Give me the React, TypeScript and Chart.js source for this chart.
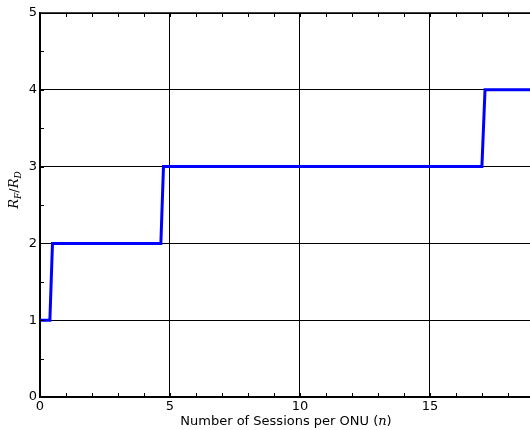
import React, { useEffect, useRef } from "react";
import { Chart, registerables } from "chart.js";

Chart.register(...registerables);

const xValues = [0, 0.38, 0.48, 4.65, 4.75, 17.0, 17.12, 19];
const yValues = [1, 1, 2, 2, 3, 3, 4, 4];
const xMin = 0;
const xMax = 18.85;
const yMin = 0;
const yMax = 5;
const xMajorStep = 5;
const xMinorStep = 1;
const yMajorStep = 1;
const yMinorStep = 0.5;

const framePlugin = {
  id: "framePlugin",
  afterDraw(chart: any) {
    const { ctx, chartArea, scales } = chart;
    const xs = scales.x;
    const ys = scales.y;
    ctx.save();
    ctx.strokeStyle = "#000";
    // top border
    ctx.lineWidth = 1.5;
    ctx.beginPath();
    ctx.moveTo(chartArea.left, chartArea.top);
    ctx.lineTo(chartArea.right, chartArea.top);
    ctx.stroke();
    // minor ticks
    ctx.lineWidth = 1;
    ctx.beginPath();
    for (let v = xMin + xMinorStep; v < xMax; v += xMinorStep) {
      const px = Math.round(xs.getPixelForValue(v)) + 0.5;
      ctx.moveTo(px, chartArea.bottom);
      ctx.lineTo(px, chartArea.bottom - 4);
      ctx.moveTo(px, chartArea.top);
      ctx.lineTo(px, chartArea.top + 4);
    }
    for (let v = yMin + yMinorStep; v < yMax; v += yMinorStep) {
      const py = Math.round(ys.getPixelForValue(v)) + 0.5;
      ctx.moveTo(chartArea.left, py);
      ctx.lineTo(chartArea.left + 4, py);
    }
    ctx.stroke();

    // x title with italic n
    ctx.fillStyle = "#000";
    ctx.textBaseline = "alphabetic";
    const partA = "Number of Sessions per ONU (";
    const partB = "n";
    const partC = ")";
    const sans = "13px 'DejaVu Sans'";
    const serifIt = "italic 13px 'DejaVu Serif'";
    ctx.font = sans;
    const wA = ctx.measureText(partA).width;
    const wC = ctx.measureText(partC).width;
    ctx.font = serifIt;
    const wB = ctx.measureText(partB).width;
    const total = wA + wB + wC;
    const x0 = 286 - total / 2;
    const base = 425;
    ctx.font = sans;
    ctx.fillText(partA, x0, base);
    ctx.font = serifIt;
    ctx.fillText(partB, x0 + wA, base);
    ctx.font = sans;
    ctx.fillText(partC, x0 + wA + wB, base);

    // y title R_F / R_D rotated
    ctx.save();
    ctx.translate(18, 190);
    ctx.rotate(-Math.PI / 2);
    const big = "italic 13px 'DejaVu Serif'";
    const small = "italic 9px 'DejaVu Serif'";
    const slash = "13px 'DejaVu Sans'";
    const parts: [string, string, number][] = [
      ["R", big, 0],
      ["F", small, 3],
      ["/", slash, 0],
      ["R", big, 0],
      ["D", small, 3],
    ];
    let tw = 0;
    const widths: number[] = [];
    for (const [t, f] of parts) {
      ctx.font = f;
      const w = ctx.measureText(t).width;
      widths.push(w);
      tw += w;
    }
    let cx = -tw / 2;
    parts.forEach(([t, f, dy], i) => {
      ctx.font = f;
      ctx.fillText(t, cx, dy);
      cx += widths[i];
    });
    ctx.restore();
    ctx.restore();
  },
};

export default function App() {
  const ref = useRef<HTMLCanvasElement | null>(null);
  useEffect(() => {
    if (!ref.current) return;
    const points = xValues.map((x, i) => ({ x, y: yValues[i] }));
    const chart = new Chart(ref.current, {
      type: "line",
      data: {
        datasets: [
          {
            data: points,
            borderColor: "#0000ff",
            borderWidth: 3,
            pointRadius: 0,
            tension: 0,
            fill: false,
          },
        ],
      },
      options: {
        animation: false,
        responsive: false,
        layout: { padding: { top: 13, right: 0, left: 0, bottom: 0 } },
        plugins: { legend: { display: false }, tooltip: { enabled: false } },
        scales: {
          x: {
            type: "linear",
            min: xMin,
            max: xMax,
            afterFit(scale: any) {
              scale.height = 33;
            },
            afterBuildTicks(scale: any) {
              const t = [];
              for (let v = xMin; v <= xMax; v += xMajorStep) t.push({ value: v });
              scale.ticks = t;
            },
            ticks: {
              color: "#000",
              font: { family: "'DejaVu Sans'", size: 13 },
              padding: 2,
              maxRotation: 0,
            },
            grid: { color: "#000", lineWidth: 1, drawTicks: false },
            border: { display: true, color: "#000", width: 1.5 },
          },
          y: {
            type: "linear",
            min: yMin,
            max: yMax,
            afterFit(scale: any) {
              scale.width = 40;
            },
            ticks: {
              stepSize: yMajorStep,
              color: "#000",
              font: { family: "'DejaVu Sans'", size: 13 },
              padding: 3,
            },
            grid: { color: "#000", lineWidth: 1, drawTicks: false },
            border: { display: true, color: "#000", width: 1.5 },
          },
        },
      },
      plugins: [framePlugin],
    });
    return () => chart.destroy();
  }, []);
  return (
    <div style={{ position: "absolute", left: 0, top: 0 }}>
      <canvas ref={ref} width={530} height={430} style={{ display: "block" }} />
    </div>
  );
}
